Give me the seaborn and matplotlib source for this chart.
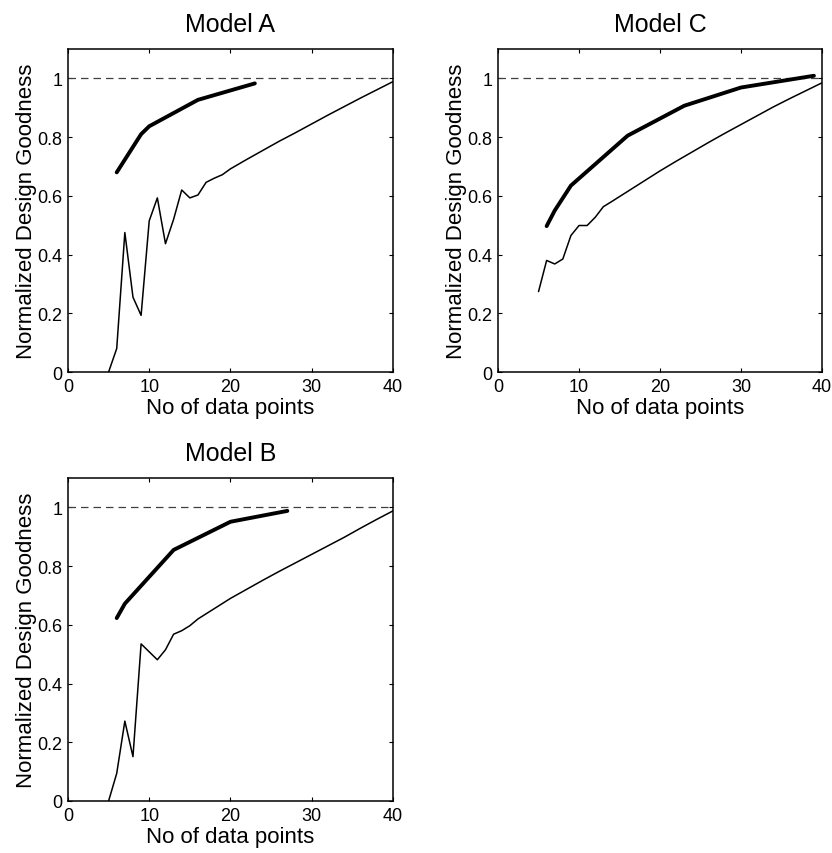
import numpy as np
import pandas as pd
import matplotlib
matplotlib.use("Agg")
import matplotlib.pyplot as plt
import seaborn as sns

# Datos
# Model A
a_thin_x = [5, 6, 7, 8, 9, 10, 11, 12, 13, 14, 15, 16, 17, 18, 19, 20,
            22, 24, 26, 28, 30, 32, 34, 36, 38, 40]
a_thin_y = [0.0, 0.08, 0.475, 0.255, 0.193, 0.515, 0.593, 0.437, 0.52, 0.62,
            0.593, 0.603, 0.646, 0.66, 0.672, 0.692,
            0.724, 0.755, 0.786, 0.815, 0.845, 0.875, 0.904, 0.933, 0.961, 0.989]
a_thick_x = [6, 9, 10, 16, 23]
a_thick_y = [0.68, 0.81, 0.837, 0.927, 0.983]

# Model C
c_thin_x = [5, 6, 7, 8, 9, 10, 11, 12, 13, 14, 16, 18, 20, 22, 24, 26, 28,
            30, 32, 34, 36, 38, 40]
c_thin_y = [0.274, 0.38, 0.368, 0.385, 0.465, 0.499, 0.499, 0.527, 0.563,
            0.58, 0.615, 0.65, 0.685, 0.718, 0.75, 0.782, 0.813, 0.843,
            0.873, 0.903, 0.931, 0.958, 0.985]
c_thick_x = [6, 7, 9, 16, 23, 30, 39]
c_thick_y = [0.497, 0.55, 0.635, 0.805, 0.907, 0.969, 1.009]

# Model B
b_thin_x = [5, 6, 7, 8, 9, 11, 12, 13, 14, 15, 16, 18, 20, 22, 24, 26, 28,
            30, 32, 34, 36, 38, 40]
b_thin_y = [0.0, 0.094, 0.272, 0.151, 0.535, 0.481, 0.515, 0.568, 0.58,
            0.597, 0.62, 0.655, 0.69, 0.721, 0.752, 0.782, 0.811, 0.84,
            0.869, 0.898, 0.929, 0.959, 0.988]
b_thick_x = [6, 7, 13, 20, 27]
b_thick_y = [0.623, 0.672, 0.855, 0.951, 0.988]

x_ticks = [0, 10, 20, 30, 40]
y_ticks = [0, 0.2, 0.4, 0.6, 0.8, 1]
y_tick_labels = ["0", "0.2", "0.4", "0.6", "0.8", "1"]

sns.set_style("ticks")
plt.rcParams["font.family"] = ["Liberation Sans", "DejaVu Sans"]
plt.rcParams["text.color"] = "black"
plt.rcParams["axes.labelcolor"] = "black"
plt.rcParams["xtick.color"] = "black"
plt.rcParams["ytick.color"] = "black"
plt.rcParams["axes.edgecolor"] = "black"

fig = plt.figure(figsize=(8.32, 8.54), dpi=100)

paneles = [
    ("Model A", [0.0817, 0.5632, 0.3906, 0.3782], a_thin_x, a_thin_y, a_thick_x, a_thick_y),
    ("Model C", [0.5986, 0.5632, 0.3894, 0.3782], c_thin_x, c_thin_y, c_thick_x, c_thick_y),
    ("Model B", [0.0817, 0.0609, 0.3906, 0.3782], b_thin_x, b_thin_y, b_thick_x, b_thick_y),
]

for titulo, pos, tx, ty, kx, ky in paneles:
    ax = fig.add_axes(pos)
    ax.axhline(1.0, color="#404040", lw=0.9, ls=(0, (6, 4)), zorder=1)
    df_thin = pd.DataFrame({"x": tx, "y": ty})
    df_thick = pd.DataFrame({"x": kx, "y": ky})
    sns.lineplot(data=df_thin, x="x", y="y", ax=ax, color="black", lw=1.1)
    sns.lineplot(data=df_thick, x="x", y="y", ax=ax, color="black", lw=2.8)
    ax.set_xlim(0, 40)
    ax.set_ylim(0, 1.1)
    ax.set_xticks(x_ticks)
    ax.set_yticks(y_ticks)
    ax.set_yticklabels(y_tick_labels)
    ax.tick_params(direction="in", length=3, width=0.8, top=True, right=True,
                   labelsize=13, pad=4)
    for s in ax.spines.values():
        s.set_linewidth(1.1)
    ax.set_title(titulo, fontsize=18, pad=13)
    ax.set_xlabel("No of data points", fontsize=16, labelpad=2)
    ax.set_ylabel("Normalized Design Goodness", fontsize=16, labelpad=0)

plt.savefig("out.png", dpi=100)
